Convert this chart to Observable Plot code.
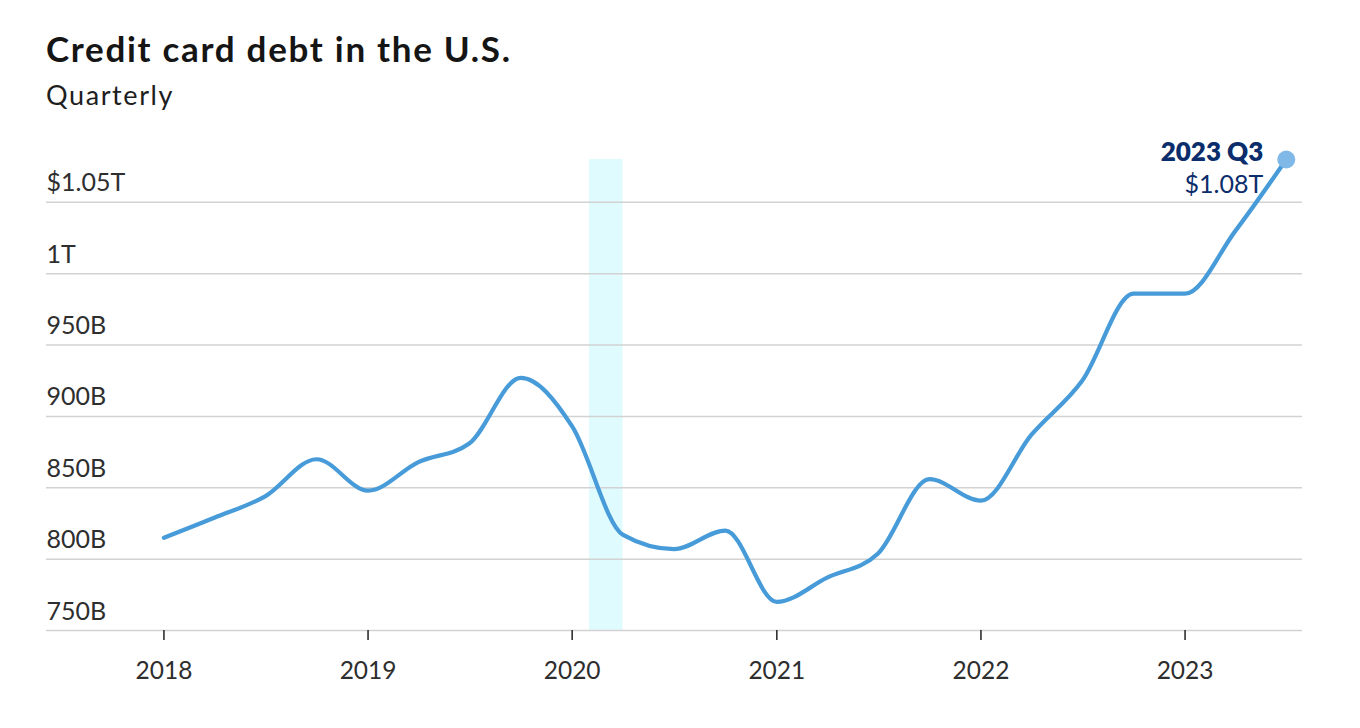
<!DOCTYPE html>
<html>
<head>
<meta charset="utf-8">
<script src="https://cdn.jsdelivr.net/npm/d3@7"></script>
<script src="https://cdn.jsdelivr.net/npm/@observablehq/plot@0.6"></script>
<style>
  html, body { margin: 0; padding: 0; background: #fff; }
  body { width: 1360px; height: 728px; overflow: hidden; font-family: Lato, "Open Sans", sans-serif; }
  #title { position: absolute; left: 46px; top: 27px; font-size: 35px; font-weight: 700; color: #151515; letter-spacing: 1.7px; line-height: 1.2; }
  #subtitle { position: absolute; left: 46px; top: 79px; font-size: 27px; color: #1e1e1e; letter-spacing: 1.6px; line-height: 1.2; }
  #chart { position: absolute; left: 0; top: 120px; }
</style>
</head>
<body>
<div id="title">Credit card debt in the U.S.</div>
<div id="subtitle">Quarterly</div>
<div id="chart"></div>
<script>
// Quarter labels and credit card balances (billions of dollars)
const quarters = [
  "2018 Q1","2018 Q2","2018 Q3","2018 Q4",
  "2019 Q1","2019 Q2","2019 Q3","2019 Q4",
  "2020 Q1","2020 Q2","2020 Q3","2020 Q4",
  "2021 Q1","2021 Q2","2021 Q3","2021 Q4",
  "2022 Q1","2022 Q2","2022 Q3","2022 Q4",
  "2023 Q1","2023 Q2","2023 Q3"
];
const debtBillions = [
  815, 829, 844, 870,
  848, 868, 881, 927,
  893, 817, 807, 820,
  770, 787, 804, 856,
  841, 887, 925, 986,
  986, 1030, 1080
];
const yTicks = [750, 800, 850, 900, 950, 1000, 1050];
const yTickLabels = ["750B", "800B", "850B", "900B", "950B", "1T", "$1.05T"];
const xTickYears = [2018, 2019, 2020, 2021, 2022, 2023];
const recession = [{start: "2020-02-01", end: "2020-04-01"}];
const lastLabel = {title: "2023 Q3", value: "$1.08T"};

function quarterDate(q) {
  const [y, qq] = q.split(" Q");
  return new Date(Date.UTC(+y, (+qq - 1) * 3, 1));
}
const data = quarters.map((q, i) => ({date: quarterDate(q), value: debtBillions[i], label: q}));
const last = data[data.length - 1];
const rec = recession.map(r => ({x1: new Date(r.start + "T00:00:00Z"), x2: new Date(r.end + "T00:00:00Z")}));
const yTickData = yTicks.map((v, i) => ({value: v, label: yTickLabels[i]}));
const xTicks = xTickYears.map(y => new Date(Date.UTC(y, 0, 1)));

const chart = Plot.plot({
  width: 1360,
  height: 600,
  marginTop: 39,
  marginBottom: 90,
  marginLeft: 46,
  marginRight: 58,
  style: {fontFamily: "Lato, 'Open Sans', sans-serif", background: "transparent"},
  x: {type: "utc", domain: [new Date(Date.UTC(2017, 5, 5)), new Date(Date.UTC(2023, 6, 30))]},
  y: {domain: [750, 1080], axis: null},
  marks: [
    Plot.rect(rec, {x1: "x1", x2: "x2", fill: "#e0fbfd"}),
    Plot.ruleY(yTicks, {stroke: "#d2d2d2", strokeWidth: 1.5}),
    Plot.text(yTickData, {
      y: "value", text: "label", frameAnchor: "left", textAnchor: "start",
      dy: -19, fontSize: 25, fill: "#2e2e2e"
    }),
    Plot.axisX({
      ticks: xTicks, tickFormat: d3.utcFormat("%Y"), tickSize: 10, tickPadding: 21,
      fontSize: 24.5, stroke: "#222", strokeWidth: 1.5, color: "#2e2e2e"
    }),
    Plot.line(data, {
      x: "date", y: "value", curve: "monotone-x",
      stroke: "#479bd9", strokeWidth: 4.2, strokeLinecap: "round", strokeLinejoin: "round"
    }),
    Plot.dot([last], {x: "date", y: "value", r: 9, fill: "#80b8e7", stroke: "none"}),
    Plot.text([last], {
      x: "date", y: "value", text: () => lastLabel.title, textAnchor: "end",
      dx: -23, dy: -7, fontSize: 26, fontWeight: 800, fill: "#0b2d6b", letterSpacing: 1.6
    }),
    Plot.text([last], {
      x: "date", y: "value", text: () => lastLabel.value, textAnchor: "end",
      dx: -23, dy: 25, fontSize: 25, fill: "#0b2d6b", letterSpacing: 0.4
    })
  ]
});
document.getElementById("chart").appendChild(chart);
</script>
</body>
</html>
